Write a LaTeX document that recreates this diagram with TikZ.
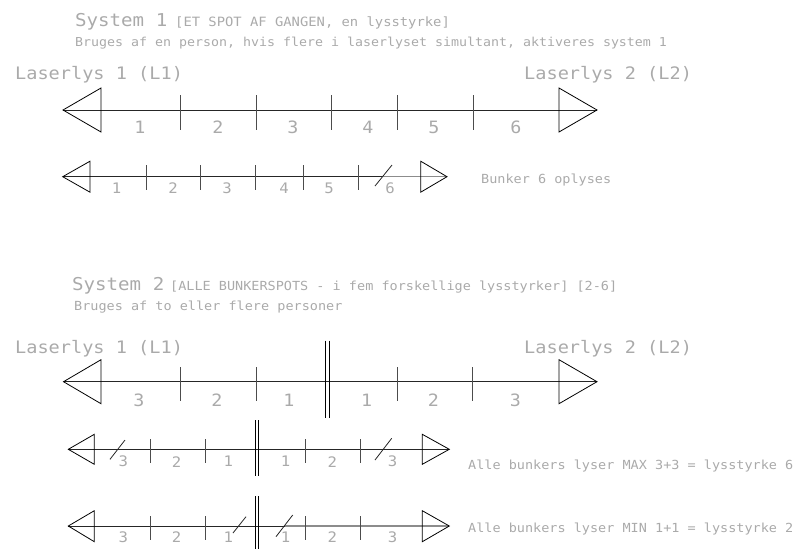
\documentclass[tikz,border=0pt]{standalone}
\usepackage{fontspec}
\newfontfamily\cad[FakeStretch=1.08]{DejaVu Sans Mono}
\definecolor{txt}{RGB}{170,170,170}
\begin{document}
\begin{tikzpicture}[x=1pt,y=-1pt,
  ln/.style={line width=0.8pt, draw=black!85},
  lit/.style={line width=1.3pt, draw=black!45},
  tk/.style={line width=1pt, draw=black!70},
  tri/.style={line width=0.8pt, draw=black},
  dbl/.style={line width=0.9pt, draw=black},
  big/.style={inner sep=0, text=txt, font=\cad\fontsize{17}{17}\selectfont},
  sml/.style={inner sep=0, text=txt, font=\cad\fontsize{14.5}{14.5}\selectfont},
  ttl/.style={inner sep=0, anchor=base west, text=txt, font=\cad\fontsize{17.7}{18}\selectfont},
  las/.style={inner sep=0, anchor=base west, text=txt, font=\cad\fontsize{17.2}{17}\selectfont},
  note/.style={inner sep=0, anchor=base west, text=txt, font=\cad\fontsize{12.5}{13}\selectfont}]
\useasboundingbox (0,0) rectangle (805,550);

% ---------- texts, system 1 ----------
\node[ttl] (t1) at (75,26.5) {System 1};
\node[note, font=\cad\fontsize{12.8}{13}\selectfont] (t1b) at (175,26.5) {[ET SPOT AF GANGEN, en lysstyrke]};
\node[note, font=\cad\fontsize{12.3}{13}\selectfont] (t1c) at (75,46.3) {Bruges af en person, hvis flere i laserlyset simultant, aktiveres system 1};
\node[las] (l1a) at (15,79.7) {Laserlys 1 (L1)};
\node[las] (l1b) at (524,79.7) {Laserlys 2 (L2)};

% ---------- system 1, big row ----------
\coordinate (a1l) at (63,110); \coordinate (a1r) at (597,110);
\draw[ln] (a1l) -- (a1r);
\draw[tri] (101,88) -- (a1l) -- (101,132) -- cycle;
\draw[tri] (559,88) -- (a1r) -- (559,132) -- cycle;
\foreach \x in {180,256,331,397,473} \draw[tk] (\x,95.3) -- (\x,130);
\foreach \x/\t [count=\i] in {140/1,218/2,293/3,368/4,434/5,516/6}
  \node[big] (a1n\i) at (\x,127.5) {\t};

% ---------- system 1, small row ----------
\coordinate (b1l) at (62.7,176.7); \coordinate (b1r) at (447,176.7);
\coordinate (b1s) at (383,176.7);
\draw[ln] (b1l) -- (b1r);
\draw[lit] (b1s) -- (b1r);
\draw[tri] (90,161.2) -- (b1l) -- (90,192.2) -- cycle;
\draw[tri] (420.7,161.2) -- (b1r) -- (420.7,192.2) -- cycle;
\foreach \x in {146,200.7,255,303,358} \draw[tk] (\x,165) -- (\x,190);
\draw[ln] (375,186) -- (392,165);
\foreach \x/\t [count=\i] in {116.7/1,173/2,227/3,284/4,329/5,390/6}
  \node[sml] (b1n\i) at (\x,188) {\t};
\node[note] (b1t) at (481,183.5) {Bunker 6 oplyses};

% ---------- texts, system 2 ----------
\node[ttl] (t2) at (72,290.5) {System 2};
\node[note] (t2b) at (170,290.5) {[ALLE BUNKERSPOTS - i fem forskellige lysstyrker] [2-6]};
\node[note] (t2c) at (74,310.5) {Bruges af to eller flere personer};
\node[las] (l2a) at (15,353.5) {Laserlys 1 (L1)};
\node[las] (l2b) at (524,353.5) {Laserlys 2 (L2)};

% ---------- system 2, big row ----------
\coordinate (a2l) at (63.5,381.7); \coordinate (a2r) at (597,381.7);
\draw[ln] (a2l) -- (a2r);
\draw[tri] (101,359.7) -- (a2l) -- (101,403.7) -- cycle;
\draw[tri] (559,359.7) -- (a2r) -- (559,403.7) -- cycle;
\foreach \x in {180.4,256,397,472} \draw[tk] (\x,367) -- (\x,400.7);
\draw[dbl] (325,340.7) -- (325,418) (329.3,340.7) -- (329.3,418);
\foreach \x/\t [count=\i] in {139/3,217/2,289/1,366.7/1,433.5/2,515.5/3}
  \node[big] (a2n\i) at (\x,400) {\t};

% ---------- system 2, MAX row ----------
\coordinate (c2l) at (68.3,449.3); \coordinate (c2r) at (449.3,449.3);
\draw[ln] (c2l) -- (c2r);
\draw[tri] (94.3,434.3) -- (c2l) -- (94.3,464.3) -- cycle;
\draw[tri] (422.3,434.3) -- (c2r) -- (422.3,464.3) -- cycle;
\foreach \x in {150.7,205,305.7,360} \draw[tk] (\x,439) -- (\x,463.3);
\draw[dbl] (255,420) -- (255,476) (258.5,420) -- (258.5,476);
\draw[ln] (110,459.3) -- (125,440);
\draw[ln] (375,460) -- (391.7,438.3);
\foreach \x/\t [count=\i] in {123.3/3,176.7/2,228.3/1,285.7/1,332.3/2,392.7/3}
  \node[sml] (c2n\i) at (\x,461.7) {\t};
\node[note] (c2t) at (468,469.5) {Alle bunkers lyser MAX 3+3 = lysstyrke 6};

% ---------- system 2, MIN row ----------
\coordinate (d2l) at (68.3,526); \coordinate (d2r) at (449.3,526);
\coordinate (d2s) at (285,526);
\draw[ln] (d2l) -- (d2r);
\draw[lit] (d2s) -- (d2r);
\draw[tri] (94.3,510.7) -- (d2l) -- (94.3,541.7) -- cycle;
\draw[tri] (422.3,510.7) -- (d2r) -- (422.3,541.7) -- cycle;
\foreach \x in {150.7,205,305.7,360} \draw[tk] (\x,516) -- (\x,540);
\draw[dbl] (255,496) -- (255,549) (258.5,496) -- (258.5,549);
\draw[ln] (233,533) -- (246,516.7);
\draw[ln] (276,536.7) -- (292.7,515);
\foreach \x/\t [count=\i] in {123.3/3,176.7/2,228.3/1,285.7/1,332.3/2,392.7/3}
  \node[sml] (d2n\i) at (\x,537) {\t};
\node[note] (d2t) at (468,532.5) {Alle bunkers lyser MIN 1+1 = lysstyrke 2};
\end{tikzpicture}
\end{document}
